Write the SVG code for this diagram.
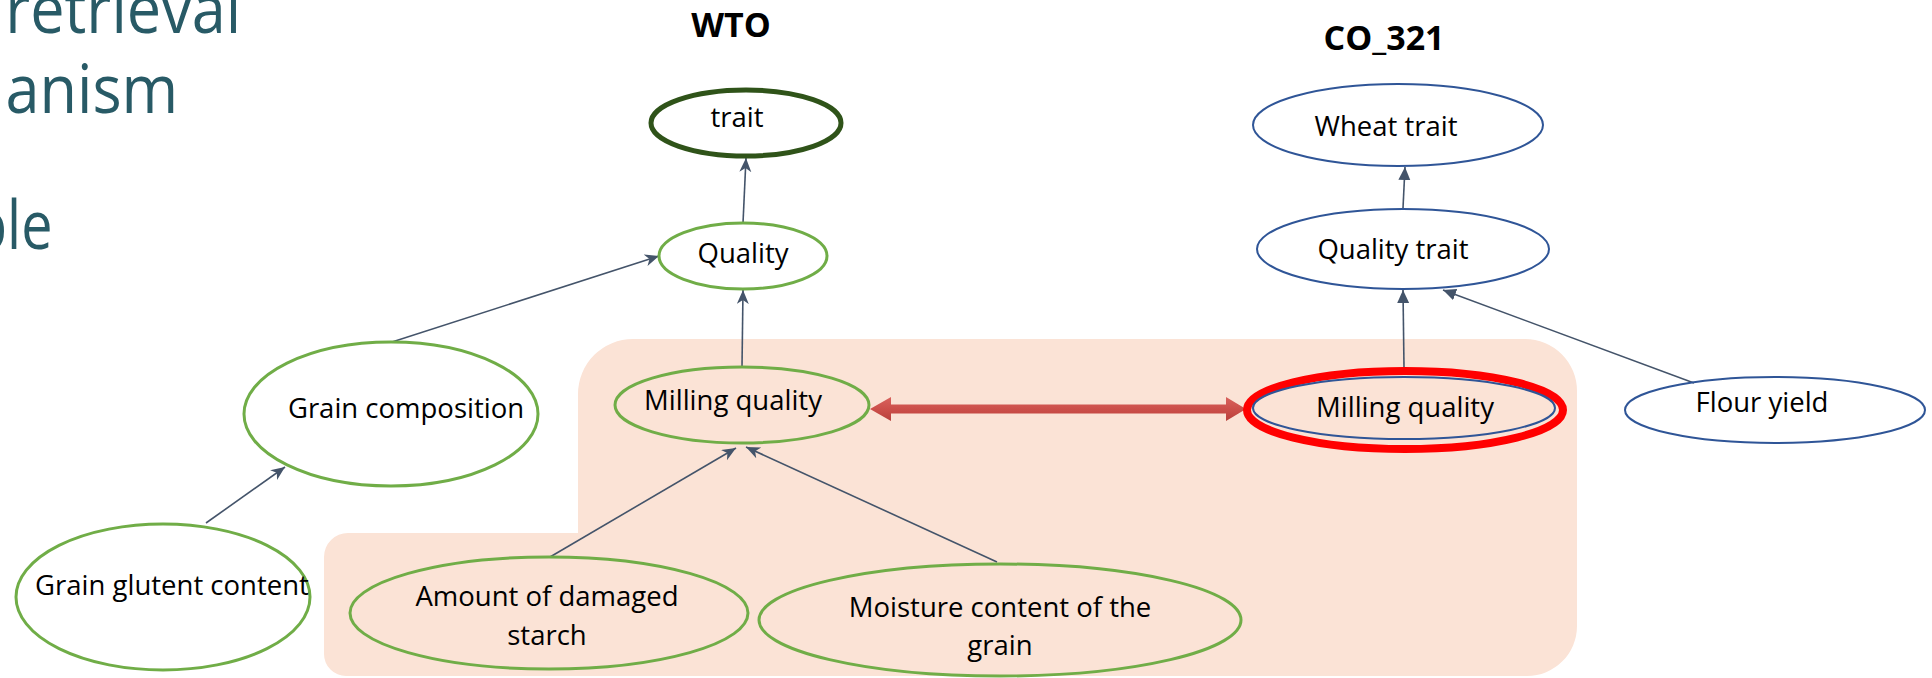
<svg xmlns="http://www.w3.org/2000/svg" width="1932" height="678" viewBox="0 0 1932 678">
  <style>
    .lbl { font-family: "Open Sans", "Noto Sans", sans-serif; font-size: 27.5px; fill: #000; text-anchor: middle; }
    .ttl { font-family: "Open Sans", "Noto Sans", sans-serif; font-size: 34px; font-weight: bold; fill: #000; text-anchor: middle; }
    .head { font-family: "Open Sans", "Noto Sans", sans-serif; font-size: 68px; fill: #285A66; text-anchor: end; }
    .g { fill: none; stroke: #70AD47; stroke-width: 3; }
    .dg { fill: none; stroke: #2F5319; stroke-width: 5; }
    .b { fill: none; stroke: #2F5597; stroke-width: 2; }
    .c { fill: none; stroke: #44546A; stroke-width: 1.6; }
  </style>
  <defs>
    <marker id="stealth" markerUnits="userSpaceOnUse" markerWidth="16" markerHeight="14" refX="14" refY="6" orient="auto">
      <path d="M0,0 L14,6 L0,12 L4,6 z" fill="#44546A"/>
    </marker>
    <marker id="tri" markerUnits="userSpaceOnUse" markerWidth="16" markerHeight="14" refX="13" refY="6" orient="auto">
      <path d="M0,0 L13,6 L0,12 z" fill="#44546A"/>
    </marker>
    <linearGradient id="redg" x1="0" y1="0" x2="0" y2="1">
      <stop offset="0" stop-color="#D8625D"/>
      <stop offset="0.5" stop-color="#CC4F4A"/>
      <stop offset="1" stop-color="#B8403C"/>
    </linearGradient>
  </defs>

  <rect width="1932" height="678" fill="#FFFFFF"/>

  <g id="heading">
    <g transform="scale(0.9 1)">
      <text class="head" x="268" y="33">retrieval</text>
      <text class="head" x="198" y="113">anism</text>
    </g>
    <g transform="scale(0.82 1)">
      <text class="head" x="64" y="249">ble</text>
    </g>
  </g>

  <g id="highlight">
    <path d="M348 533 H578 V394 A55 55 0 0 1 633 339 H1525 A52 52 0 0 1 1577 391 V626 A50 50 0 0 1 1527 676 H346 A22 22 0 0 1 324 654 V557 A24 24 0 0 1 348 533 Z" fill="#FBE3D6"/>
  </g>

  <g id="titles">
    <text class="ttl" x="731" y="37">WTO</text>
    <text class="ttl" x="1384" y="50">CO_321</text>
  </g>

  <g id="connectors">
    <line class="c" x1="743" y1="223" x2="746" y2="158" marker-end="url(#stealth)"/>
    <line class="c" x1="392" y1="342" x2="659" y2="256" marker-end="url(#stealth)"/>
    <line class="c" x1="742" y1="367" x2="743" y2="290" marker-end="url(#stealth)"/>
    <line class="c" x1="206" y1="523" x2="285" y2="467" marker-end="url(#stealth)"/>
    <line class="c" x1="550" y1="557" x2="736" y2="448" marker-end="url(#stealth)"/>
    <line class="c" x1="997" y1="562" x2="746" y2="447" marker-end="url(#stealth)"/>
    <line class="c" x1="1403" y1="208" x2="1405" y2="167" marker-end="url(#tri)"/>
    <line class="c" x1="1404" y1="368" x2="1403" y2="290" marker-end="url(#tri)"/>
    <line class="c" x1="1694" y1="383" x2="1443" y2="290" marker-end="url(#tri)"/>
    <polygon id="match-arrow" points="870,409 891,397 891,404.5 1226,404.5 1226,397 1246,409 1226,421 1226,413.5 891,413.5 891,421" fill="url(#redg)"/>
  </g>

  <g id="n-trait">
    <ellipse class="dg" cx="746" cy="123" rx="95" ry="33"/>
    <text class="lbl" x="737" y="127">trait</text>
  </g>
  <g id="n-quality">
    <ellipse class="g" cx="743" cy="256" rx="84" ry="33"/>
    <text class="lbl" x="743" y="263">Quality</text>
  </g>
  <g id="n-grain-composition">
    <ellipse class="g" cx="391" cy="414" rx="147" ry="72"/>
    <text class="lbl" x="406" y="418">Grain composition</text>
  </g>
  <g id="n-milling-wto">
    <ellipse class="g" cx="742" cy="405" rx="127" ry="38"/>
    <text class="lbl" x="733" y="410">Milling quality</text>
  </g>
  <g id="n-grain-glutent">
    <ellipse class="g" cx="163" cy="597" rx="147" ry="73"/>
    <text class="lbl" x="172" y="595">Grain glutent content</text>
  </g>
  <g id="n-damaged-starch">
    <ellipse class="g" cx="549" cy="613" rx="199" ry="56"/>
    <text class="lbl" x="547" y="606">Amount of damaged</text>
    <text class="lbl" x="547" y="645">starch</text>
  </g>
  <g id="n-moisture">
    <ellipse class="g" cx="1000" cy="620" rx="241" ry="56"/>
    <text class="lbl" x="1000" y="617">Moisture content of the</text>
    <text class="lbl" x="1000" y="655">grain</text>
  </g>
  <g id="n-wheat-trait">
    <ellipse class="b" cx="1398" cy="125" rx="145" ry="41"/>
    <text class="lbl" x="1386" y="136">Wheat trait</text>
  </g>
  <g id="n-quality-trait">
    <ellipse class="b" cx="1403" cy="249" rx="146" ry="40"/>
    <text class="lbl" x="1393" y="259">Quality trait</text>
  </g>
  <g id="n-milling-co">
    <ellipse cx="1405" cy="410" rx="158" ry="39" fill="none" stroke="#FF0000" stroke-width="8"/>
    <ellipse class="b" cx="1404" cy="408" rx="151" ry="31"/>
    <text class="lbl" x="1405" y="417">Milling quality</text>
  </g>
  <g id="n-flour-yield">
    <ellipse class="b" cx="1775" cy="410" rx="150" ry="33"/>
    <text class="lbl" x="1762" y="412">Flour yield</text>
  </g>
</svg>
